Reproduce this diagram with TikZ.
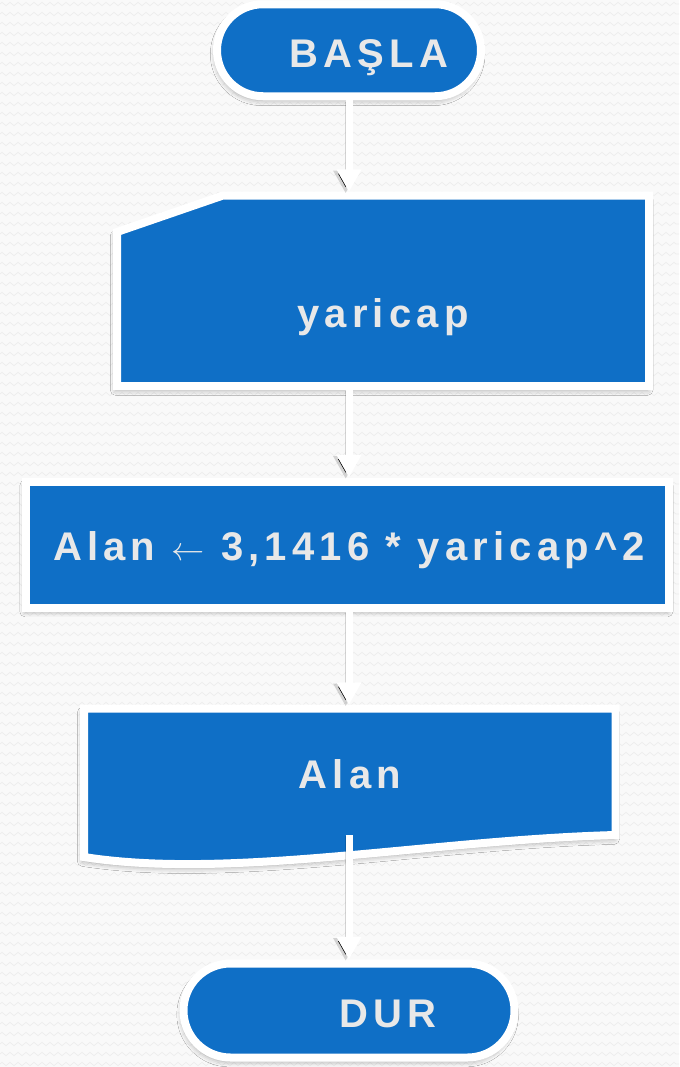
\documentclass[tikz,border=0pt]{standalone}
\usepackage{fontspec}
\usepackage{tikz}
\usetikzlibrary{shapes.misc,arrows.meta,shadows.blur,decorations.pathmorphing}
\newfontfamily\flowfont{Liberation Sans}[LetterSpace=13]
\definecolor{flowblue}{HTML}{0F6FC6}
\definecolor{labelgrey}{HTML}{E8E8E8}
\definecolor{paper}{HTML}{F9F9F9}
\definecolor{zigline}{HTML}{ECECEC}

\tikzset{
  flowshape/.style={fill=flowblue, draw=white, line width=6pt, line join=miter,
    blur shadow={shadow xshift=-1pt, shadow yshift=-3pt, shadow blur radius=4pt, shadow opacity=35}},
  terminal/.style={flowshape, rounded rectangle, inner sep=0pt},
  flowlabel/.style={anchor=base, inner sep=0pt, text=labelgrey,
    font=\flowfont\bfseries\fontsize{30}{36}\selectfont},
  flowarrow/.style={draw=white, line width=5.25pt, -{Triangle[width=17.5pt,length=17pt]},
    preaction={draw=black, draw opacity=0.15, transform canvas={xshift=-2.5pt, yshift=-1pt}}}
}

\begin{document}
\begin{tikzpicture}[x=0.75pt, y=-0.75pt]
    % Paper with a faint zigzag texture
    \useasboundingbox (0,0) rectangle (679,1067);
    \fill[paper] (0,0) rectangle (679,1067);
    \foreach \r in {4,14,...,1064}
        \draw[zigline, line width=0.5pt, decorate, decoration={zigzag, segment length=6pt, amplitude=1.2pt}] (0,\r) -- (679,\r);

    % Start terminal
    \node[terminal, minimum width=198pt, minimum height=69pt] (start) at (349,50.25) {};

    % Manual input: radius
    \path[flowshape] (117,232) -- (223,195.5) -- (649,195.5) -- (649,386) -- (117,386) -- cycle;
    \coordinate (inpin) at (349,192);
    \coordinate (inpout) at (349,390);

    % Process: area
    \node[flowshape, rectangle, inner sep=0pt, minimum width=481.9pt, minimum height=94.5pt] (proc) at (347.75,544.5) {};

    % Document: output
    \path[flowshape] (84,708.5) -- (615.5,708.5) -- (615.5,835)
        .. controls (430,840) and (230,880) .. (84,857) -- cycle;
    \coordinate (docin) at (349,705);
    \coordinate (docout) at (349,835);

    % Stop terminal
    \node[terminal, minimum width=248.25pt, minimum height=70.5pt] (stop) at (349,1010.5) {};

    % Connectors
    \draw[flowarrow] (start.south) -- (inpin);
    \draw[flowarrow] (inpout) -- (inpout |- proc.north);
    \draw[flowarrow] (proc.south -| docin) -- (docin);
    \draw[flowarrow] (docout) -- (stop.north);

    % Labels
    \node[flowlabel] (startlbl) at (369,67) {BAŞLA};
    \node[flowlabel] (inplbl) at (383,327) {yaricap};
    \node[flowlabel] (proclbl) at (349,560) {Alan $\leftarrow$ 3,1416 * yaricap\textasciicircum2};
    \node[flowlabel] (outlbl) at (350,788) {Alan};
    \node[flowlabel] (stoplbl) at (388,1027) {DUR};
\end{tikzpicture}
\end{document}
